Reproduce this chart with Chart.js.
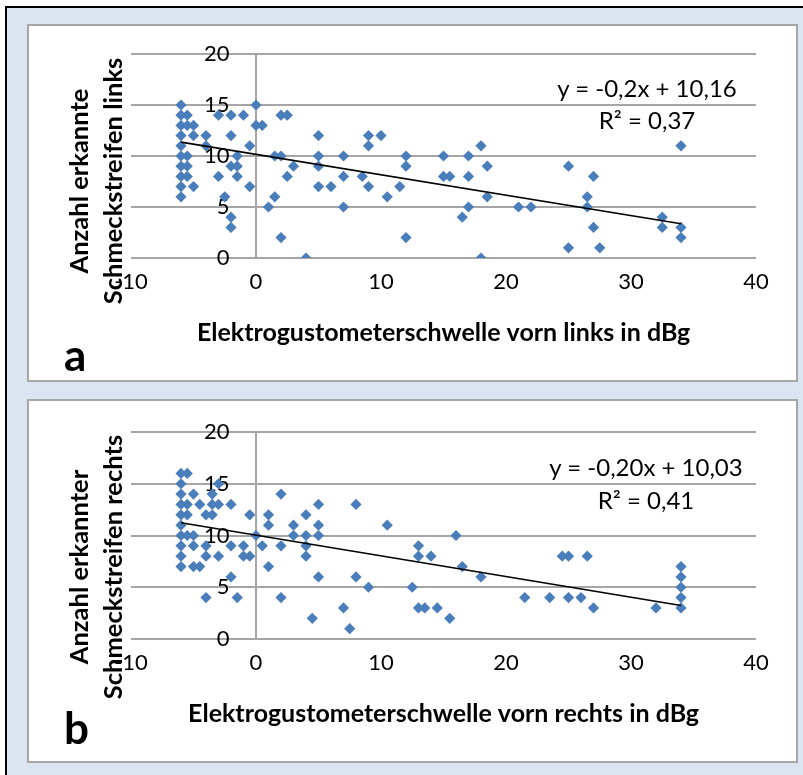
<!DOCTYPE html>
<html>
<head>
<meta charset="utf-8">
<script src="https://cdn.jsdelivr.net/npm/chart.js@4.4.1/dist/chart.umd.min.js"></script>
<style>
  html, body { margin:0; padding:0; background:#ffffff; width:803px; height:775px; overflow:hidden; }
  #outer { position:absolute; left:5px; top:6px; width:800px; height:772px; background:#dbe5f1;
           border-left:2px solid #000; border-top:2px solid #000; box-sizing:border-box; }
  .panel { position:absolute; background:#fff; border:2px solid #a6a6a6; box-sizing:border-box; }
  canvas { position:absolute; left:0; top:0; }
  .txt { position:absolute; font-family:Lato, "Liberation Sans", sans-serif; color:#000; white-space:nowrap; }
  .eq { font-size:24px; text-align:center; width:240px; line-height:26px; }
  .ytitle { font-weight:bold; font-size:25.5px; line-height:34px; text-align:center; width:340px; height:68px;
            transform:rotate(-90deg); transform-origin:50% 50%; }
  .letter { font-weight:bold; font-size:44px; line-height:44px; }
</style>
</head>
<body>
<div id="outer"></div>

<div class="panel" id="panelA" style="left:27px;top:24px;width:771px;height:358px;">
  <canvas id="chartA" width="767" height="354"></canvas>
</div>
<div class="panel" id="panelB" style="left:27px;top:399px;width:771px;height:364px;">
  <canvas id="chartB" width="767" height="360"></canvas>
</div>

<div class="txt ytitle" style="left:-75px;top:147px;">Anzahl erkannte<br>Schmeckstreifen links</div>
<div class="txt ytitle" style="left:-75px;top:533px;">Anzahl erkannter<br>Schmeckstreifen rechts</div>

<div class="txt eq" style="left:527px;top:75px;">y = -0,2x + 10,16</div>
<div class="txt eq" style="left:527px;top:107px;">R² = 0,37</div>
<div class="txt eq" style="left:526px;top:454px;">y = -0,20x + 10,03</div>
<div class="txt eq" style="left:526px;top:487px;">R² = 0,41</div>

<div class="txt letter" style="left:64px;top:332px;">a</div>
<div class="txt letter" style="left:64px;top:705px;">b</div>

<script>
// ---------- data ----------
const xTicks = [-10, 0, 10, 20, 30, 40];
const yTicks = [0, 5, 10, 15, 20];

const titleA_x = "Elektrogustometerschwelle vorn links in dBg";
const titleB_x = "Elektrogustometerschwelle vorn rechts in dBg";

// Panel a: threshold left (x) vs recognised strips left (y)
const aX = [-6,-6,-6,-6,-6,-6,-6,-6,-6,-6,
  -5.5,-5.5,-5.5,-5.5,-5.5, -5,-5,-5, -4,-4, -3,-3, -2.5,
  -2,-2,-2,-2,-2, -1.5,-1.5,-1.5, -1, -0.5,-0.5, 0,0, 0.5, 1, 1.5,1.5,
  2,2,2, 2.5,2.5, 3, 4, 5,5,5,5, 6, 7,7,7, 8.5, 9,9,9, 10, 10.5, 11.5,
  12,12,12, 15,15, 15.5, 16.5, 17,17,17, 18,18, 18.5,18.5, 21, 22,
  25,25, 26.5,26.5, 27,27, 27.5, 32.5,32.5, 34,34,34];
const aY = [15,14,13,12,11,10,9,8,7,6,
  14,13,10,9,8, 13,12,7, 12,11, 14,8, 6,
  14,12,9,4,3, 10,9,8, 14, 11,7, 15,13, 13, 5, 10,6,
  14,10,2, 14,8, 9, 0, 12,10,9,7, 7, 10,8,5, 8, 12,11,7, 12, 6, 7,
  10,9,2, 10,8, 8, 4, 10,8,5, 11,0, 9,6, 5, 5,
  9,1, 6,5, 8,3, 1, 4,3, 11,3,2];
const trendA = { slope: -0.2, intercept: 10.16 };

// Panel b: threshold right (x) vs recognised strips right (y)
const bX = [-6,-6,-6,-6,-6,-6,-6,-6,-6,-6,
  -5.5,-5.5,-5.5,-5.5, -5,-5,-5,-5, -4.5,-4.5, -4,-4,-4,-4, -3.5,-3.5,-3.5,
  -3,-3,-3, -2,-2,-2, -1.5, -1,-1, -0.5,-0.5, 0, 0.5, 1,1,1, 2,2,2, 3,3,
  4,4,4,4, 4.5, 5,5,5,5, 7, 7.5, 8,8, 9, 10.5, 12.5, 13,13,13, 13.5, 14, 14.5,
  15.5, 16, 16.5, 18, 21.5, 23.5, 24.5, 25,25, 26, 26.5, 27, 32, 34,34,34,34,34];
const bY = [16,15,14,13,12,11,10,9,8,7,
  16,13,12,10, 14,10,9,7, 13,7, 12,9,8,4, 14,13,12,
  15,13,8, 13,9,6, 4, 9,8, 12,8, 10, 9, 12,11,7, 14,9,4, 11,10,
  12,10,9,8, 2, 13,11,10,6, 3, 1, 13,6, 5, 11, 5, 9,8,3, 3, 8, 3,
  2, 10, 7, 6, 4, 4, 8, 8,4, 4, 8, 3, 3, 7,6,5,4,3];
const trendB = { slope: -0.20, intercept: 10.03 };

// ---------- chart builder ----------
const FONT = "Lato, 'Liberation Sans', sans-serif";
const GRID = '#a6a6a6';
const BLUE = '#4a7ebb';

function makeChart(id, xs, ys, trend, xTitle, pad) {
  const pts = xs.map((x, i) => ({ x: x, y: ys[i] }));
  const x0 = Math.min(...xs), x1 = Math.max(...xs);
  const line = [x0, x1].map(x => ({ x: x, y: trend.slope * x + trend.intercept }));
  return new Chart(document.getElementById(id), {
    type: 'scatter',
    data: {
      datasets: [
        { type: 'line', data: line, borderColor: '#000', borderWidth: 1.6, pointRadius: 0,
          fill: false, tension: 0, order: 0 },
        { data: pts, pointStyle: 'rectRot', pointRadius: 5.6, pointHoverRadius: 5.6,
          backgroundColor: BLUE, borderColor: BLUE, borderWidth: 0, order: 1 }
      ]
    },
    options: {
      responsive: false,
      animation: false,
      devicePixelRatio: 1,
      layout: { padding: pad },
      plugins: { legend: { display: false }, tooltip: { enabled: false } },
      scales: {
        x: {
          type: 'linear', position: 'bottom', min: xTicks[0], max: xTicks[xTicks.length - 1],
          afterBuildTicks: s => { s.ticks = xTicks.map(v => ({ value: v })); },
          afterFit: s => { s.height = 90; },
          grid: { drawTicks: false, lineWidth: 2,
                  color: c => (c.tick && c.tick.value === 0) ? GRID : 'rgba(0,0,0,0)' },
          border: { display: false },
          ticks: { color: '#000', padding: 11, font: { family: FONT, size: 22 }, maxRotation: 0 },
          title: { display: true, text: xTitle, color: '#000', padding: { top: 0, bottom: 0 },
                   font: { family: FONT, size: 25, weight: 'bold' } }
        },
        y: {
          type: 'linear', position: 'left', min: yTicks[0], max: yTicks[yTicks.length - 1],
          afterBuildTicks: s => { s.ticks = yTicks.map(v => ({ value: v })); },
          afterFit: s => { s.width = 0; s.paddingTop = 0; s.paddingBottom = 0; },
          grid: { drawTicks: false, lineWidth: 2, color: GRID },
          border: { display: false },
          ticks: { color: '#000', mirror: true, crossAlign: 'far', padding: 73,
                   font: { family: FONT, size: 22 } }
        }
      }
    }
  });
}

makeChart('chartA', aX, aY, trendA, titleA_x, { left: 102, right: 40, top: 28, bottom: 32 });
makeChart('chartB', bX, bY, trendB, titleB_x, { left: 102, right: 40, top: 31, bottom: 32 });
</script>
</body>
</html>
